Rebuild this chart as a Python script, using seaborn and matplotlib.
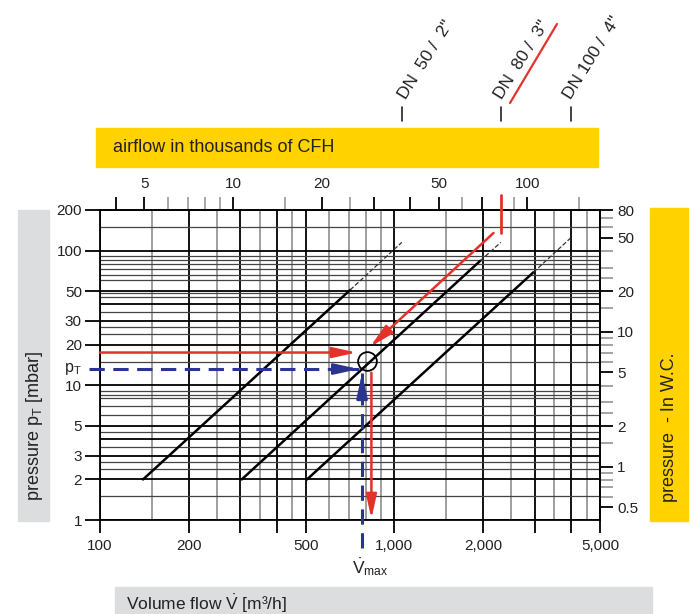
import numpy as np
import pandas as pd
import matplotlib
matplotlib.use("Agg")
import matplotlib.pyplot as plt
from matplotlib.patches import Rectangle
from matplotlib.lines import Line2D
import seaborn as sns

#-------------------------------------------------------------------------------
#   chart values (flow in m3/h, pressure in mbar)
#-------------------------------------------------------------------------------
flow_major = [100, 200, 300, 400, 500, 1000, 2000, 3000, 4000, 5000]
flow_minor = [150, 250, 350, 450, 600, 700, 800, 900, 1500, 2500, 3500, 4500]
flow_labels = ["100", "200", "", "", "500", "1,000", "2,000", "", "", "5,000"]

press_major = [1, 2, 3, 4, 5, 10, 20, 30, 40, 50, 100, 200]
press_minor = [1.5, 2.4, 2.7, 3.5, 4.5, 6, 7, 8, 8.5, 9, 15,
               24, 27, 35, 45, 48, 60, 66, 73, 80, 85, 91, 150]
press_ticks = [1, 2, 3, 5, 10, 20, 30, 50, 100, 200]

cfh_major = [4, 5, 10, 20, 30, 40, 50, 70, 100]
cfh_labels = ["", "5", "10", "20", "", "", "50", "", "100"]
cfh_minor = [6, 7, 8, 9, 15, 25, 60, 90, 150]

inch_major = [0.5, 1, 2, 5, 10, 20, 50, 80]
inch_minor = [0.6, 0.7, 0.8, 0.9, 1.5, 2.5, 3, 4, 6, 7, 8, 9,
              15, 25, 30, 40, 60, 70]

# DN curves: start, end of solid part, end of dashed part
dn_names = ['DN  50 /  2"', 'DN  80 /  3"', 'DN 100 /  4"']
dn_start_flow = [140, 303, 505]
dn_start_p = [2, 2, 2]
dn_solid_flow = [708, 1960, 2970]
dn_solid_p = [51, 84, 69]
dn_end_flow = [1060, 2300, 3975]
dn_end_p = [115, 115, 124]

# reading example
red_h_flow, red_h_p = [100, 745], [17.5, 17.5]
red_diag_flow, red_diag_p = [2173, 828], [135, 19.3]
red_top_flow, red_top_p = [2300, 2300], [135, 258]
red_down_flow, red_down_p = [836, 836], [12.4, 1.02]
blue_h_flow, blue_h_p = [92, 758], [13.2, 13.2]
blue_v_flow, blue_v_p = [777, 777], [0.62, 12.3]
op_flow, op_p = 809, 15.1

M3H_TO_KCFH = 0.0353
MBAR_PER_INCH = 2.49

RED = "#e4322b"
BLUE = "#2b3590"
YELLOW = "#ffd200"
GREY_BOX = "#dcdddf"
TXT = "#222222"

sns.set_theme(style="ticks")
plt.rcParams["font.family"] = ["Liberation Sans", "DejaVu Sans"]
plt.rcParams["mathtext.fontset"] = "custom"
plt.rcParams["mathtext.rm"] = "Liberation Sans"
plt.rcParams["mathtext.it"] = "Liberation Sans"

W, H = 694, 614
fig = plt.figure(figsize=(W / 100, H / 100), dpi=100)
ax = fig.add_axes([100 / W, 94 / H, 500 / W, 310 / H])
ax.set_xscale("log")
ax.set_yscale("log")
ax.set_xlim(100, 5000)
ax.set_ylim(1, 200)


def box(x, y, w, h, color):
    fig.add_artist(Rectangle((x / W, 1 - (y + h) / H), w / W, h / H,
                             transform=fig.transFigure, color=color, zorder=0))


#-------------------------------------------------------------------------------
#   grid
#-------------------------------------------------------------------------------
for v in flow_minor:
    ax.axvline(v, color="#8f8f8f", lw=1.2, zorder=1)
for v in flow_major:
    ax.axvline(v, color="black", lw=1.3, zorder=1)
for h in press_minor:
    ax.axhline(h, color="#444444", lw=0.9, zorder=1)
for h in press_major:
    ax.axhline(h, color="black", lw=1.3, zorder=1)

#-------------------------------------------------------------------------------
#   DN curves
#-------------------------------------------------------------------------------
for i in range(len(dn_names)):
    sns.lineplot(x=[dn_start_flow[i], dn_solid_flow[i]], y=[dn_start_p[i], dn_solid_p[i]],
                 color="black", lw=1.8, ax=ax, zorder=3)
    sns.lineplot(x=[dn_solid_flow[i], dn_end_flow[i]], y=[dn_solid_p[i], dn_end_p[i]],
                 color="#333333", lw=0.9, ax=ax, zorder=3, dashes=(3, 2.5), linestyle="--")
    # small marker bar above the chart
    ax.plot([dn_end_flow[i], dn_end_flow[i]], [920, 1170], color="#222222", lw=1.2,
            clip_on=False)

#-------------------------------------------------------------------------------
#   reading example
#-------------------------------------------------------------------------------
arrow_style = "-|>,head_length=1.45,head_width=0.32"
ax.plot(red_top_flow, red_top_p, color=RED, lw=2, clip_on=False, zorder=4)
for fx, py in [(red_h_flow, red_h_p), (red_diag_flow, red_diag_p), (red_down_flow, red_down_p)]:
    ax.annotate("", xy=(fx[1], py[1]), xytext=(fx[0], py[0]),
                arrowprops=dict(arrowstyle=arrow_style, color=RED, lw=1.8,
                                shrinkA=0, shrinkB=0, mutation_scale=10),
                zorder=4)

ax.plot(blue_h_flow, blue_h_p, color=BLUE, lw=2.2, dashes=(5, 2.8), clip_on=False, zorder=4)
ax.plot(blue_v_flow, blue_v_p, color=BLUE, lw=2.2, dashes=(5, 2.8), clip_on=False, zorder=4)
ax.annotate("", xy=(blue_h_flow[1], blue_h_p[1]), xytext=(-17, 0), textcoords="offset points",
            arrowprops=dict(arrowstyle=arrow_style, color=BLUE, lw=2,
                            shrinkA=0, shrinkB=0, mutation_scale=10), zorder=4)
ax.annotate("", xy=(blue_v_flow[1], blue_v_p[1]), xytext=(0, -17), textcoords="offset points",
            arrowprops=dict(arrowstyle=arrow_style, color=BLUE, lw=2,
                            shrinkA=0, shrinkB=0, mutation_scale=10), zorder=4)

ax.plot(op_flow, op_p, "o", mfc="none", mec="black", ms=13.5, mew=1.3, zorder=5)

ax.text(-0.036, blue_h_p[0], r"p$_\mathregular{T}$", transform=ax.get_yaxis_transform(),
        ha="right", va="center", fontsize=11.5, color=TXT)
ax.annotate(r"$\dot{\mathrm{V}}_{\mathrm{max}}$", xy=(blue_v_flow[0], 1), xytext=(-7, -42),
            textcoords="offset points", ha="left", va="bottom", fontsize=12.5,
            color=TXT, annotation_clip=False)

#-------------------------------------------------------------------------------
#   axes, ticks
#-------------------------------------------------------------------------------
ax.xaxis.set_minor_locator(matplotlib.ticker.NullLocator())
ax.yaxis.set_minor_locator(matplotlib.ticker.NullLocator())
ax.set_xticks(flow_major, flow_labels)
ax.set_yticks(press_ticks, [str(v) for v in press_ticks])
ax.tick_params(axis="x", which="major", length=9, width=1.3, color="black",
               labelsize=11, labelcolor=TXT, pad=5, bottom=True, top=False)
ax.tick_params(axis="y", which="major", length=11, width=1.3, color="black",
               labelsize=11, labelcolor=TXT, pad=2, left=True, right=False)
ax.set_xlabel("")
ax.set_ylabel("")
for s in ax.spines.values():
    s.set_color("black")
    s.set_linewidth(1.3)
    s.set_visible(True)

top = ax.secondary_xaxis("top", functions=(lambda v: v * M3H_TO_KCFH,
                                           lambda v: v / M3H_TO_KCFH))
top.set_xticks(cfh_major, cfh_labels)
top.set_xticks(cfh_minor, [""] * len(cfh_minor), minor=True)
top.tick_params(which="major", length=9.4, width=1.3, color="black",
                labelsize=11, labelcolor=TXT, pad=4)
top.tick_params(which="minor", length=9.4, width=1.2, color="#9a9a9a")

right = ax.secondary_yaxis("right", functions=(lambda p: p / MBAR_PER_INCH,
                                               lambda p: p * MBAR_PER_INCH))
right.set_yticks(inch_major, [f"{v:g}" for v in inch_major])
right.set_yticks(inch_minor, [""] * len(inch_minor), minor=True)
right.tick_params(which="major", length=9.4, width=1.3, color="black",
                  labelsize=11, labelcolor=TXT, pad=3)
right.tick_params(which="minor", length=9.4, width=1.1, color="#8a8a8a")

#-------------------------------------------------------------------------------
#   label boxes
#-------------------------------------------------------------------------------
box(96, 128, 502, 39, YELLOW)
fig.text(113 / W, 1 - 147 / H, "airflow in thousands of CFH", ha="left", va="center",
         fontsize=13, color=TXT)

box(650, 208, 38, 313, YELLOW)
fig.text(669 / W, 1 - 427 / H, "pressure  - In W.C.", rotation=90, ha="center",
         va="center", fontsize=13, color=TXT)

box(18, 210, 31, 311, GREY_BOX)
fig.text(35 / W, 1 - 426 / H, r"pressure p$_\mathregular{T}$ [mbar]", rotation=90,
         ha="center", va="center", fontsize=13, color=TXT)

box(115, 587, 537, 27, GREY_BOX)
fig.text(126 / W, 1 - 604 / H, r"Volume flow $\dot{\mathrm{V}}$ [m³/h]", ha="left",
         va="center", fontsize=12.5, color=TXT)

# DN names, slanted
for name, xp in zip(dn_names, [406, 502, 571]):
    fig.text(xp / W, 1 - 100 / H, name, rotation=58, rotation_mode="anchor",
             ha="left", va="baseline", fontsize=12.5, color=TXT)
fig.add_artist(Line2D([510 / W, 557 / W], [1 - 103 / H, 1 - 24 / H],
                      transform=fig.transFigure, color=RED, lw=1.6))

fig.savefig("out.png", dpi=100, facecolor="white")
